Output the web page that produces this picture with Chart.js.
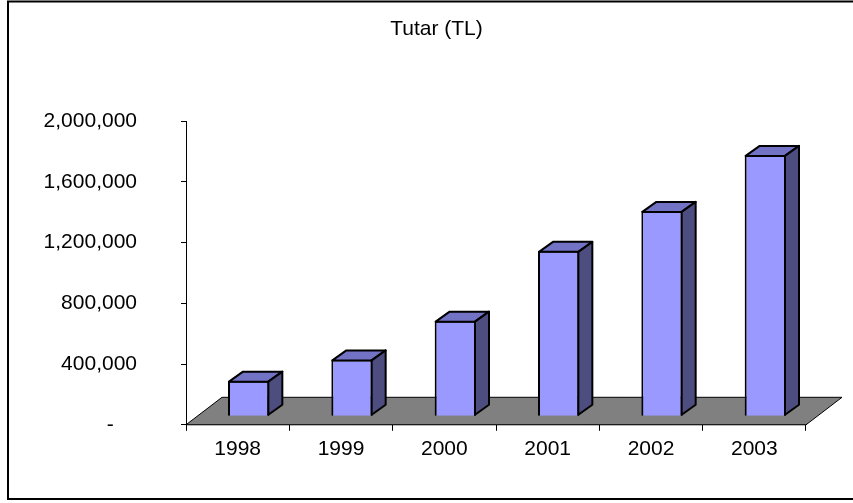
<!DOCTYPE html>
<html lang="tr">
<head>
  <meta charset="UTF-8">
  <title>Tutar (TL)</title>
  <script src="https://cdn.jsdelivr.net/npm/chart.js"></script>
  <style>
    body {
      margin: 0;
      background: #fff;
    }
    canvas {
      display: block;
    }
  </style>
</head>
<body>
  <canvas id="chart" width="853" height="503"></canvas>

  <script>
    // data
    const years = ["1998", "1999", "2000", "2001", "2002", "2003"];
    const amounts = [235000, 375000, 630000, 1090000, 1353000, 1722000];
    const yTicks = [0, 400000, 800000, 1200000, 1600000, 2000000];

    const FONT = "Arial, 'Liberation Sans', sans-serif";

    // depth of the floor and of the bars (oblique projection)
    const floorDepth = { dx: 36, dy: -27.5 };
    const barFront = { dx: 11, dy: -8.5 };
    const barDepth = { dx: 14, dy: -10 };

    const fake3d = {
      id: "fake3d",
      beforeDatasetsDraw(chart) {
        const ctx = chart.ctx;
        const area = chart.chartArea;
        const y0 = chart.scales.y.getPixelForValue(0);

        // grey floor
        ctx.save();
        ctx.beginPath();
        ctx.moveTo(area.left, y0);
        ctx.lineTo(area.right, y0);
        ctx.lineTo(area.right + floorDepth.dx, y0 + floorDepth.dy);
        ctx.lineTo(area.left + floorDepth.dx, y0 + floorDepth.dy);
        ctx.closePath();
        ctx.fillStyle = "#808080";
        ctx.fill();
        ctx.lineWidth = 1;
        ctx.strokeStyle = "#000";
        ctx.stroke();
        ctx.restore();

        // push the bars back onto the floor
        ctx.save();
        ctx.translate(barFront.dx, barFront.dy);
      },
      afterDatasetsDraw(chart) {
        const ctx = chart.ctx;
        const meta = chart.getDatasetMeta(0);

        ctx.lineWidth = 2;
        ctx.lineJoin = "round";
        ctx.strokeStyle = "#000";
        meta.data.forEach(bar => {
          const p = bar.getProps(["x", "y", "base", "width"], true);
          const l = p.x - p.width / 2 + 1;
          const r = p.x + p.width / 2 - 1;
          const top = p.y + 1;
          const bottom = p.base - 1;

          // top face
          ctx.beginPath();
          ctx.moveTo(l, top);
          ctx.lineTo(r, top);
          ctx.lineTo(r + barDepth.dx, top + barDepth.dy);
          ctx.lineTo(l + barDepth.dx, top + barDepth.dy);
          ctx.closePath();
          ctx.fillStyle = "#7373c6";
          ctx.fill();
          ctx.stroke();

          // side face
          ctx.beginPath();
          ctx.moveTo(r, top);
          ctx.lineTo(r + barDepth.dx, top + barDepth.dy);
          ctx.lineTo(r + barDepth.dx, bottom + barDepth.dy);
          ctx.lineTo(r, bottom);
          ctx.closePath();
          ctx.fillStyle = "#4d4d80";
          ctx.fill();
          ctx.stroke();
        });

        ctx.restore();
      },
      afterDraw(chart) {
        // outer frame of the chart object
        const ctx = chart.ctx;
        ctx.save();
        ctx.lineWidth = 2;
        ctx.strokeStyle = "#000";
        ctx.strokeRect(8, 1.5, 900, 497.5);
        ctx.restore();
      }
    };

    new Chart(document.getElementById("chart"), {
      type: "bar",
      data: {
        labels: years,
        datasets: [{
          label: "Tutar (TL)",
          data: amounts,
          backgroundColor: "#9999ff",
          borderColor: "#000",
          borderWidth: 2,
          categoryPercentage: 1,
          barPercentage: 0.4
        }]
      },
      options: {
        responsive: false,
        animation: false,
        devicePixelRatio: 1,
        layout: {
          padding: { left: 20, right: 0, top: 0, bottom: 35 }
        },
        plugins: {
          legend: { display: false },
          tooltip: { enabled: false },
          title: {
            display: true,
            text: "Tutar (TL)",
            color: "#000",
            font: { family: FONT, size: 21, weight: "normal" },
            padding: { top: 17, bottom: 79 }
          }
        },
        scales: {
          x: {
            grid: {
              drawOnChartArea: false,
              drawTicks: true,
              tickLength: 6,
              color: "#000"
            },
            border: { color: "#000", width: 1 },
            ticks: {
              color: "#000",
              padding: 6,
              font: { family: FONT, size: 21 }
            }
          },
          y: {
            min: 0,
            max: 2000000,
            afterBuildTicks(scale) {
              scale.ticks = yTicks.map(v => ({ value: v }));
            },
            afterFit(scale) {
              scale.width = 166;
            },
            grid: {
              drawOnChartArea: false,
              drawTicks: true,
              tickLength: 5,
              color: "#000"
            },
            border: { color: "#000", width: 1 },
            ticks: {
              color: "#000",
              padding: 44,
              font: { family: FONT, size: 21 },
              callback: v => v === 0 ? "-    " : v.toLocaleString("en-US")
            }
          },
          // empty strip on the right, leaves room for the floor's depth
          spacer: {
            type: "linear",
            position: "right",
            grid: { display: false },
            border: { display: false },
            ticks: { display: false },
            afterFit(scale) {
              scale.width = 47;
            }
          }
        }
      },
      plugins: [fake3d]
    });
  </script>
</body>
</html>
